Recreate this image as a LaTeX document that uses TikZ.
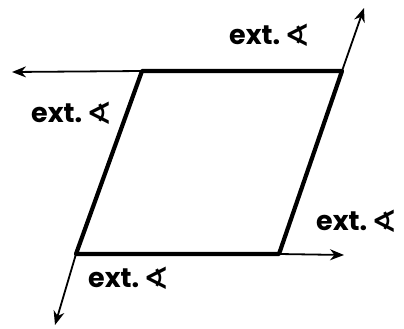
\documentclass[tikz,border=0pt]{standalone}
\usepackage{fontspec}
\setmainfont{Poppins}
\newfontfamily\symfont{DejaVu Sans}
\usetikzlibrary{arrows.meta, positioning}
\tikzset{
  sidepath/.style={line width=4.2pt, line join=round, line cap=round},
  extpath/.style={line width=1.8pt, -{Stealth[length=14pt, width=11pt]}},
  extlabel/.style={font=\fontsize{27}{29}\selectfont\bfseries, inner sep=0pt}
}
\newcommand{\extang}{ext.\,\raisebox{-1.5pt}{\symfont\fontsize{31}{31}\selectfont\bfseries\char"2222}}

\begin{document}
\begin{tikzpicture}[x=1pt, y=-1pt]
  \useasboundingbox (0,0) rectangle (404,329);
  % vertices of the parallelogram
  \coordinate (tl) at (142,71);
  \coordinate (tr) at (342,71);
  \coordinate (br) at (279,254);
  \coordinate (bl) at (76,254);
  % free ends of the extended sides
  \coordinate (tlend) at (12,72);
  \coordinate (trend) at (364,8);
  \coordinate (brend) at (344,255);
  \coordinate (blend) at (55,325);
  % extensions
  \draw[extpath] (tl) -- (tlend);
  \draw[extpath] (tr) -- (trend);
  \draw[extpath] (br) -- (brend);
  \draw[extpath] (bl) -- (blend);
  % sides
  \draw[sidepath] (tl) -- (tr) -- (br) -- (bl) -- cycle;
  % labels
  \node[extlabel] (exttop) at (270,35) {\extang};
  \node[extlabel] (extleft) at (72,113) {\extang};
  \node[extlabel] (extright) at (357,221) {\extang};
  \node[extlabel] (extbottom) at (129,278) {\extang};
\end{tikzpicture}
\end{document}
